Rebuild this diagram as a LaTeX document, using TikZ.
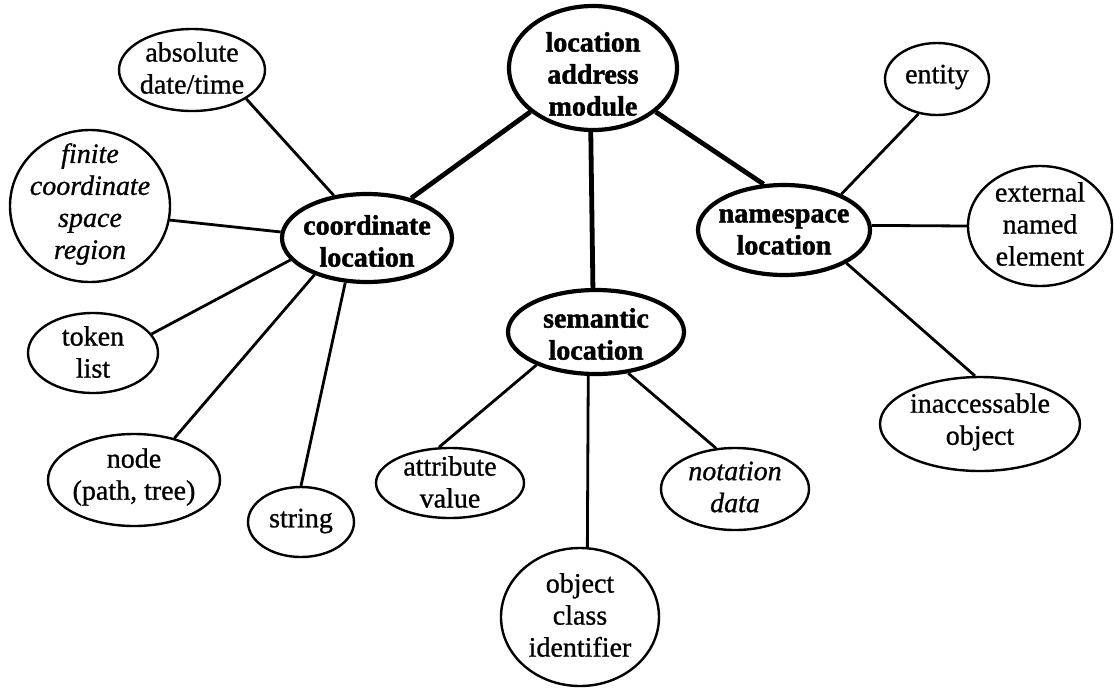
\documentclass[tikz,border=0pt]{standalone}
\usepackage{fontspec}
\setmainfont{Liberation Serif}
% slightly heavier faces for the bubble texts
\newfontfamily\leaffont[FakeBold=0.9]{Liberation Serif}
\newfontfamily\hubfont[FakeBold=1.6]{Liberation Serif}
\usetikzlibrary{shapes.geometric}
\begin{document}
\begin{tikzpicture}[x=1pt,y=-1pt,
  leaf/.style={ellipse, draw, line width=2.4pt, inner sep=0pt},
  hub/.style={ellipse, draw, line width=4.2pt, inner sep=0pt},
  lbl/.style={align=center, inner sep=0pt, font=\leaffont\fontsize{28}{32}\selectfont},
  hublbl/.style={align=center, inner sep=0pt, font=\hubfont\fontsize{28}{32}\selectfont\bfseries},
  itlbl/.style={align=center, inner sep=0pt, font=\leaffont\fontsize{28}{32}\selectfont\itshape},
  spoke/.style={line width=2.8pt},
  trunk/.style={line width=4.8pt}]
\useasboundingbox (0,0) rectangle (1114,689);

% hubs
\node[hub, minimum width=168pt, minimum height=124pt] (mod) at (593,68) {};
\node[hublbl] (mod-t) at (593,74) {location\\address\\module};
\node[hub, minimum width=170pt, minimum height=88pt] (coord) at (367,238) {};
\node[hublbl] (coord-t) at (367,241) {coordinate\\location};
\node[hub, minimum width=172pt, minimum height=90pt] (ns) at (784,230) {};
\node[hublbl] (ns-t) at (784,232) {namespace\\location};
\node[hub, minimum width=176pt, minimum height=84pt] (sem) at (596,332) {};
\node[hublbl] (sem-t) at (596,334) {semantic\\location};

% leaves of the coordinate location
\node[leaf, minimum width=146pt, minimum height=82pt] (abs) at (192,70) {};
\node[lbl] (abs-t) at (192,68) {absolute\\date/time};
\node[leaf, minimum width=160pt, minimum height=152pt] (fin) at (90,206) {};
\node[itlbl] (fin-t) at (90,204) {finite\\coordinate\\space\\region};
\node[leaf, minimum width=130pt, minimum height=80pt] (tok) at (93,353) {};
\node[lbl] (tok-t) at (93,352) {token\\list};
\node[leaf, minimum width=172pt, minimum height=92pt] (nod) at (134,480) {};
\node[lbl] (nod-t) at (134,477) {node\\(path, tree)};
\node[leaf, minimum width=106pt, minimum height=70pt] (str) at (301,522) {};
\node[lbl] (str-t) at (301,521) {string};

% leaves of the semantic location
\node[leaf, minimum width=148pt, minimum height=70pt] (att) at (450,483) {};
\node[lbl] (att-t) at (450,482) {attribute\\value};
\node[leaf, minimum width=158pt, minimum height=138pt] (obj) at (580,617) {};
\node[lbl] (obj-t) at (580,615) {object\\class\\identifier};
\node[leaf, minimum width=148pt, minimum height=82pt] (not) at (735,489) {};
\node[itlbl] (not-t) at (735,487) {notation\\data};

% leaves of the namespace location
\node[leaf, minimum width=104pt, minimum height=72pt] (ent) at (937,79) {};
\node[lbl] (ent-t) at (937,77) {entity};
\node[leaf, minimum width=144pt, minimum height=120pt] (ext) at (1040,226) {};
\node[lbl] (ext-t) at (1040,224) {external\\named\\element};
\node[leaf, minimum width=200pt, minimum height=94pt] (ina) at (980,424) {};
\node[lbl] (ina-t) at (980,422) {inaccessable\\object};

% connectors from the module
\draw[trunk] (mod.215) -- (coord.42);
\draw[trunk] (mod.-92) -- (sem.94);
\draw[trunk] (mod.-35) -- (ns.114);

% connectors to the leaves
\draw[spoke] (coord.128) -- (abs.-28);
\draw[spoke] (coord.176) -- (fin.-10);
\draw[spoke] (coord.196) -- (tok.18);
\draw[spoke] (coord.215) -- (nod.46);
\draw[spoke] (coord.244) -- (str.90);
\draw[spoke] (sem.209) -- (att.107);
\draw[spoke] (sem.260) -- (obj.84);
\draw[spoke] (sem.-52) -- (not.115);
\draw[spoke] (ns.32) -- (ent.242);
\draw[spoke] (ns.3) -- (ext.180);
\draw[spoke] (ns.-28) -- (ina.96);
\end{tikzpicture}
\end{document}
